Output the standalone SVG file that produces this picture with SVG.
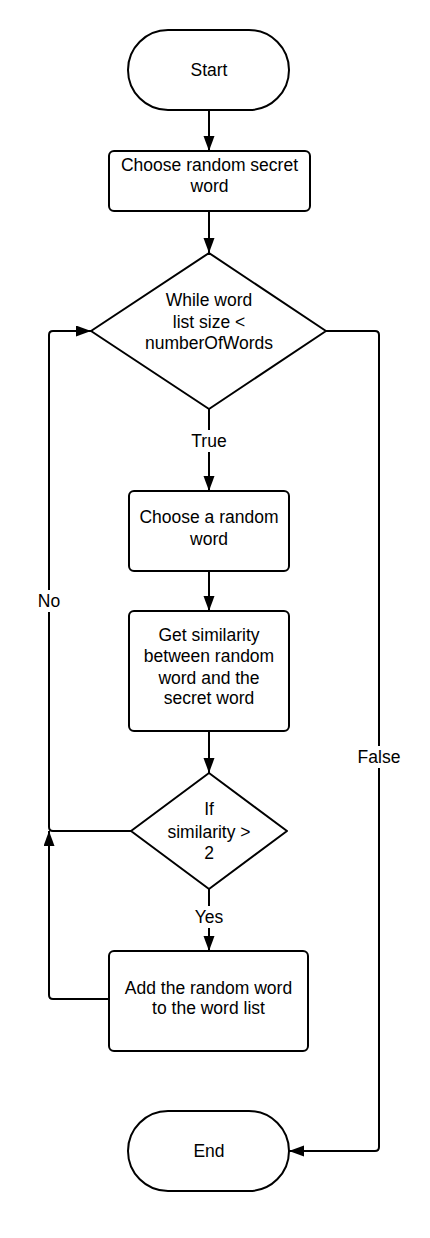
<svg xmlns="http://www.w3.org/2000/svg" width="430" height="1238" viewBox="0 0 430 1238">
<defs>
<marker id="arr" markerUnits="userSpaceOnUse" markerWidth="16" markerHeight="12" refX="15" refY="5.5" orient="auto">
<path d="M0,0 L15,5.5 L0,11 z" fill="#000"/>
</marker>
<style>
.shape{fill:#fff;stroke:#000;stroke-width:2;stroke-linejoin:round}
.t{font-family:"Liberation Sans",Arial,sans-serif;font-size:17.5px;fill:#000;text-anchor:middle}
.c{fill:none;stroke:#000;stroke-width:2;stroke-linejoin:round}
.lbl{fill:#fff;stroke:none}
</style>
</defs>
<rect width="430" height="1238" fill="#fff"/>
<g id="connectors">
<path class="c" d="M209,111 V151" marker-end="url(#arr)"/>
<path class="c" d="M209,211 V253" marker-end="url(#arr)"/>
<path class="c" d="M209,409 V491" marker-end="url(#arr)"/>
<path class="c" d="M209,571 V611" marker-end="url(#arr)"/>
<path class="c" d="M209,731 V773" marker-end="url(#arr)"/>
<path class="c" d="M209,889 V951" marker-end="url(#arr)"/>
<path class="c" d="M131,831 H53 Q49,831 49,827 V335 Q49,331 53,331 H91" marker-end="url(#arr)"/>
<path class="c" d="M109,999 H53 Q49,999 49,995 V831" marker-end="url(#arr)"/>
<path class="c" d="M326,331 H375 Q379,331 379,335 V1147 Q379,1151 375,1151 H289" marker-end="url(#arr)"/>
<rect class="lbl" x="188" y="430" width="42" height="22"/>
<text class="t" x="209" y="447">True</text>
<rect class="lbl" x="34" y="590" width="30" height="22"/>
<text class="t" x="49" y="607">No</text>
<rect class="lbl" x="355" y="746" width="48" height="22"/>
<text class="t" x="379" y="763">False</text>
<rect class="lbl" x="192" y="906" width="34" height="22"/>
<text class="t" x="209" y="923">Yes</text>
</g>
<g id="start">
<rect class="shape" x="128" y="30" width="161" height="80" rx="40"/>
<text class="t" x="209" y="76">Start</text>
</g>
<g id="choose-secret">
<rect class="shape" x="109" y="151" width="201" height="60" rx="5"/>
<text class="t" x="209.5" y="171">Choose random secret</text>
<text class="t" x="209.5" y="192">word</text>
</g>
<g id="while">
<path class="shape" d="M209,253 L326,331 L209,409 L91,331 Z"/>
<text class="t" x="209" y="306">While word</text>
<text class="t" x="209" y="328">list size &lt;</text>
<text class="t" x="209" y="349">numberOfWords</text>
</g>
<g id="choose-random">
<rect class="shape" x="129" y="491" width="160" height="80" rx="5"/>
<text class="t" x="209" y="523">Choose a random</text>
<text class="t" x="209" y="545">word</text>
</g>
<g id="similarity">
<rect class="shape" x="129" y="611" width="160" height="120" rx="5"/>
<text class="t" x="209" y="641">Get similarity</text>
<text class="t" x="209" y="662">between random</text>
<text class="t" x="209" y="684">word and the</text>
<text class="t" x="209" y="704">secret word</text>
</g>
<g id="if">
<path class="shape" d="M209,773 L287,831 L209,889 L131,831 Z"/>
<text class="t" x="209" y="815">If</text>
<text class="t" x="209" y="838">similarity &gt;</text>
<text class="t" x="209" y="859">2</text>
</g>
<g id="add">
<rect class="shape" x="109" y="951" width="199" height="100" rx="5"/>
<text class="t" x="208.5" y="994">Add the random word</text>
<text class="t" x="208.5" y="1014">to the word list</text>
</g>
<g id="end">
<rect class="shape" x="128" y="1111" width="161" height="80" rx="40"/>
<text class="t" x="209" y="1157">End</text>
</g>
</svg>
